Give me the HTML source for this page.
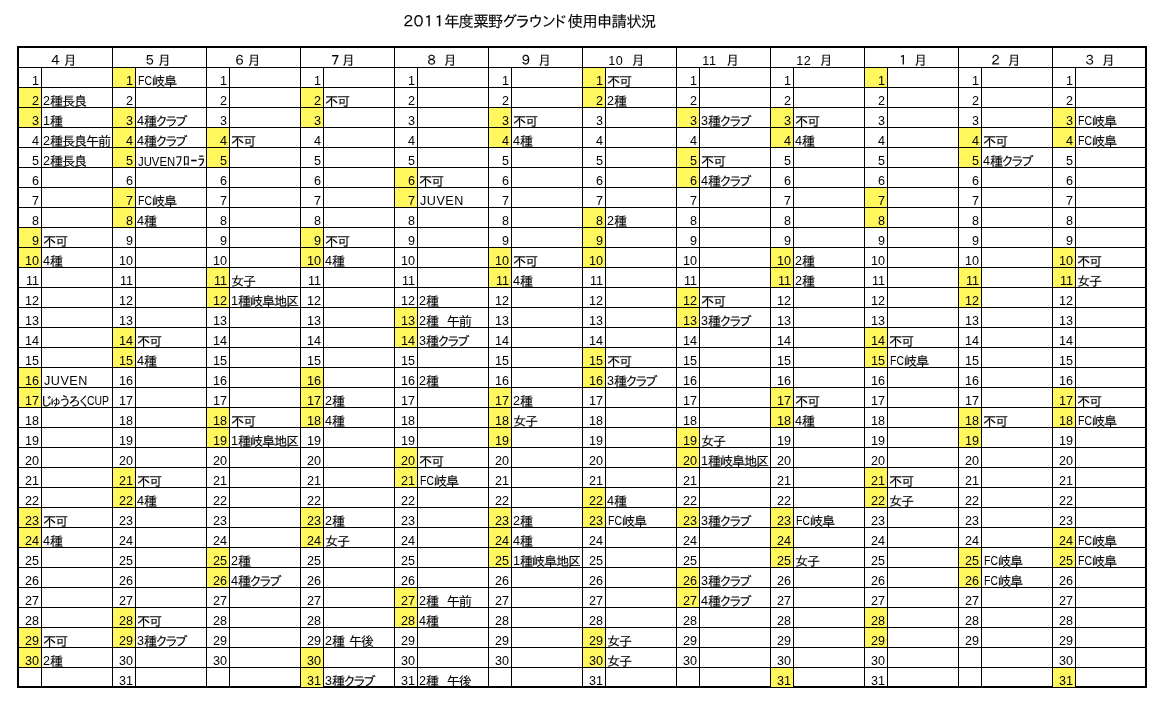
<!DOCTYPE html>
<html lang="ja"><head><meta charset="utf-8"><title>2011年度粟野グラウンド使用申請状況</title>
<style>
html,body{margin:0;padding:0;background:#fff;}
body{will-change:transform;width:1164px;height:703px;position:relative;overflow:hidden;
 font-family:"Liberation Sans","IPAGothic","Noto Sans CJK JP",sans-serif;color:#000;font-size:12.6px;line-height:16px;}
#title span{position:absolute;top:12px;white-space:nowrap;font-size:15.6px;line-height:20px;font-family:"Liberation Sans","IPAGothic","Noto Sans CJK JP",sans-serif;}
#title .a{left:400.5px;letter-spacing:-5.3px;}
#title .b{left:444px;letter-spacing:-1.0px;}
#title .c{left:501.5px;letter-spacing:-2.4px;}
#title .f{left:551.5px;}
#title .e{left:567.5px;letter-spacing:-0.93px;}
#box{position:absolute;left:17px;top:46px;width:1130px;height:642px;box-sizing:border-box;border:2px solid #000;}
.v,.hl,.y{position:absolute;}
.v{width:1px;top:48px;height:638px;background:#000;}
.v.d{top:68px;height:618px;}
.hl{left:19px;width:1126px;height:1px;background:#000;}
.y{width:22px;height:19px;background:#fff75c;}
.t,.n0,.hd{position:absolute;white-space:nowrap;height:16px;}
.n0{width:22px;text-align:right;letter-spacing:-0.02px;}
.j,.k,.h,.s,.g{font-size:13.2px;font-family:"Liberation Sans","IPAGothic","Noto Sans CJK JP",sans-serif;letter-spacing:-1.2px;}
.j,.k,.h,.s,.g{position:relative;top:1px;}
.h{top:0;}
.k{letter-spacing:-3.4px;margin-left:-1.0px;}
.s{letter-spacing:-4.4px;}
.t{word-spacing:1.5px;}
.g{letter-spacing:-3.8px;margin-left:-3.4px;}
.h{font-size:14.5px;letter-spacing:0.3px;}
.n{display:inline-block;transform-origin:0 50%;}
.w{letter-spacing:0.5px;}
.hd{font-size:13.2px;font-family:"Liberation Sans","IPAGothic","Noto Sans CJK JP",sans-serif;}
.j,.k,.g,.h,.hd,#title span{-webkit-text-stroke:0.1px #000;}
.hd.l{-webkit-text-stroke:0;letter-spacing:0.6px;font-size:12.6px;font-family:"Liberation Sans",sans-serif;}
</style></head><body>
<div id="title"><span class="a">２０１１</span><span class="b">年度粟野</span><span class="c">グラウン</span><span class="f">ド</span><span class="e">使用申請状況</span></div>
<div id="box"></div>
<div class="v d" style="left:41px"></div><div class="v" style="left:112px"></div><div class="v d" style="left:135px"></div><div class="v" style="left:206px"></div><div class="v d" style="left:229px"></div><div class="v" style="left:300px"></div><div class="v d" style="left:323px"></div><div class="v" style="left:394px"></div><div class="v d" style="left:417px"></div><div class="v" style="left:488px"></div><div class="v d" style="left:511px"></div><div class="v" style="left:582px"></div><div class="v d" style="left:605px"></div><div class="v" style="left:676px"></div><div class="v d" style="left:699px"></div><div class="v" style="left:770px"></div><div class="v d" style="left:793px"></div><div class="v" style="left:864px"></div><div class="v d" style="left:887px"></div><div class="v" style="left:958px"></div><div class="v d" style="left:981px"></div><div class="v" style="left:1052px"></div><div class="v d" style="left:1075px"></div>
<div class="hl" style="top:67px"></div><div class="hl" style="top:87px"></div><div class="hl" style="top:107px"></div><div class="hl" style="top:127px"></div><div class="hl" style="top:147px"></div><div class="hl" style="top:167px"></div><div class="hl" style="top:187px"></div><div class="hl" style="top:207px"></div><div class="hl" style="top:227px"></div><div class="hl" style="top:247px"></div><div class="hl" style="top:267px"></div><div class="hl" style="top:287px"></div><div class="hl" style="top:307px"></div><div class="hl" style="top:327px"></div><div class="hl" style="top:347px"></div><div class="hl" style="top:367px"></div><div class="hl" style="top:387px"></div><div class="hl" style="top:407px"></div><div class="hl" style="top:427px"></div><div class="hl" style="top:447px"></div><div class="hl" style="top:467px"></div><div class="hl" style="top:487px"></div><div class="hl" style="top:507px"></div><div class="hl" style="top:527px"></div><div class="hl" style="top:547px"></div><div class="hl" style="top:567px"></div><div class="hl" style="top:587px"></div><div class="hl" style="top:607px"></div><div class="hl" style="top:627px"></div><div class="hl" style="top:647px"></div><div class="hl" style="top:667px"></div>
<div class="y" style="left:19px;top:88px"></div><div class="y" style="left:19px;top:108px"></div><div class="y" style="left:19px;top:228px"></div><div class="y" style="left:19px;top:248px"></div><div class="y" style="left:19px;top:368px"></div><div class="y" style="left:19px;top:388px"></div><div class="y" style="left:19px;top:508px"></div><div class="y" style="left:19px;top:528px"></div><div class="y" style="left:19px;top:628px"></div><div class="y" style="left:19px;top:648px"></div><div class="y" style="left:113px;top:68px"></div><div class="y" style="left:113px;top:108px"></div><div class="y" style="left:113px;top:128px"></div><div class="y" style="left:113px;top:148px"></div><div class="y" style="left:113px;top:188px"></div><div class="y" style="left:113px;top:208px"></div><div class="y" style="left:113px;top:328px"></div><div class="y" style="left:113px;top:348px"></div><div class="y" style="left:113px;top:468px"></div><div class="y" style="left:113px;top:488px"></div><div class="y" style="left:113px;top:608px"></div><div class="y" style="left:113px;top:628px"></div><div class="y" style="left:207px;top:128px"></div><div class="y" style="left:207px;top:148px"></div><div class="y" style="left:207px;top:268px"></div><div class="y" style="left:207px;top:288px"></div><div class="y" style="left:207px;top:408px"></div><div class="y" style="left:207px;top:428px"></div><div class="y" style="left:207px;top:548px"></div><div class="y" style="left:207px;top:568px"></div><div class="y" style="left:301px;top:88px"></div><div class="y" style="left:301px;top:108px"></div><div class="y" style="left:301px;top:228px"></div><div class="y" style="left:301px;top:248px"></div><div class="y" style="left:301px;top:368px"></div><div class="y" style="left:301px;top:388px"></div><div class="y" style="left:301px;top:408px"></div><div class="y" style="left:301px;top:508px"></div><div class="y" style="left:301px;top:528px"></div><div class="y" style="left:301px;top:648px"></div><div class="y" style="left:301px;top:668px"></div><div class="y" style="left:395px;top:168px"></div><div class="y" style="left:395px;top:188px"></div><div class="y" style="left:395px;top:308px"></div><div class="y" style="left:395px;top:328px"></div><div class="y" style="left:395px;top:448px"></div><div class="y" style="left:395px;top:468px"></div><div class="y" style="left:395px;top:588px"></div><div class="y" style="left:395px;top:608px"></div><div class="y" style="left:489px;top:108px"></div><div class="y" style="left:489px;top:128px"></div><div class="y" style="left:489px;top:248px"></div><div class="y" style="left:489px;top:268px"></div><div class="y" style="left:489px;top:388px"></div><div class="y" style="left:489px;top:408px"></div><div class="y" style="left:489px;top:428px"></div><div class="y" style="left:489px;top:508px"></div><div class="y" style="left:489px;top:528px"></div><div class="y" style="left:489px;top:548px"></div><div class="y" style="left:583px;top:68px"></div><div class="y" style="left:583px;top:88px"></div><div class="y" style="left:583px;top:208px"></div><div class="y" style="left:583px;top:228px"></div><div class="y" style="left:583px;top:248px"></div><div class="y" style="left:583px;top:348px"></div><div class="y" style="left:583px;top:368px"></div><div class="y" style="left:583px;top:488px"></div><div class="y" style="left:583px;top:508px"></div><div class="y" style="left:583px;top:628px"></div><div class="y" style="left:583px;top:648px"></div><div class="y" style="left:677px;top:108px"></div><div class="y" style="left:677px;top:148px"></div><div class="y" style="left:677px;top:168px"></div><div class="y" style="left:677px;top:288px"></div><div class="y" style="left:677px;top:308px"></div><div class="y" style="left:677px;top:428px"></div><div class="y" style="left:677px;top:448px"></div><div class="y" style="left:677px;top:508px"></div><div class="y" style="left:677px;top:568px"></div><div class="y" style="left:677px;top:588px"></div><div class="y" style="left:771px;top:108px"></div><div class="y" style="left:771px;top:128px"></div><div class="y" style="left:771px;top:248px"></div><div class="y" style="left:771px;top:268px"></div><div class="y" style="left:771px;top:388px"></div><div class="y" style="left:771px;top:408px"></div><div class="y" style="left:771px;top:508px"></div><div class="y" style="left:771px;top:528px"></div><div class="y" style="left:771px;top:548px"></div><div class="y" style="left:771px;top:668px"></div><div class="y" style="left:865px;top:68px"></div><div class="y" style="left:865px;top:188px"></div><div class="y" style="left:865px;top:208px"></div><div class="y" style="left:865px;top:328px"></div><div class="y" style="left:865px;top:348px"></div><div class="y" style="left:865px;top:468px"></div><div class="y" style="left:865px;top:488px"></div><div class="y" style="left:865px;top:608px"></div><div class="y" style="left:865px;top:628px"></div><div class="y" style="left:959px;top:128px"></div><div class="y" style="left:959px;top:148px"></div><div class="y" style="left:959px;top:268px"></div><div class="y" style="left:959px;top:288px"></div><div class="y" style="left:959px;top:408px"></div><div class="y" style="left:959px;top:428px"></div><div class="y" style="left:959px;top:548px"></div><div class="y" style="left:959px;top:568px"></div><div class="y" style="left:1053px;top:108px"></div><div class="y" style="left:1053px;top:128px"></div><div class="y" style="left:1053px;top:248px"></div><div class="y" style="left:1053px;top:268px"></div><div class="y" style="left:1053px;top:388px"></div><div class="y" style="left:1053px;top:408px"></div><div class="y" style="left:1053px;top:528px"></div><div class="y" style="left:1053px;top:548px"></div><div class="y" style="left:1053px;top:668px"></div>
<div class="hd" style="left:49.2px;top:53.0px">４</div><div class="hd" style="left:63.4px;top:53.0px">月</div><div class="hd" style="left:143.2px;top:53.0px">５</div><div class="hd" style="left:157.8px;top:53.0px">月</div><div class="hd" style="left:233.0px;top:53.0px">６</div><div class="hd" style="left:247.6px;top:53.0px">月</div><div class="hd" style="left:328.7px;top:53.0px">７</div><div class="hd" style="left:341.8px;top:53.0px">月</div><div class="hd" style="left:425.1px;top:53.0px">８</div><div class="hd" style="left:443.5px;top:53.0px">月</div><div class="hd" style="left:519.2px;top:53.0px">９</div><div class="hd" style="left:537.9px;top:53.0px">月</div><div class="hd l" style="left:608.2px;top:53.0px">10</div><div class="hd" style="left:631.5px;top:53.0px">月</div><div class="hd l" style="left:702.3px;top:53.0px">11</div><div class="hd" style="left:725.9px;top:53.0px">月</div><div class="hd l" style="left:796.2px;top:53.0px">12</div><div class="hd" style="left:819.5px;top:53.0px">月</div><div class="hd" style="left:896.5px;top:53.0px">１</div><div class="hd" style="left:913.9px;top:53.0px">月</div><div class="hd" style="left:989.0px;top:53.0px">２</div><div class="hd" style="left:1007.5px;top:53.0px">月</div><div class="hd" style="left:1083.2px;top:53.0px">３</div><div class="hd" style="left:1101.8px;top:53.0px">月</div>
<div class="n0" style="left:17.0px;top:73.0px">1</div><div class="n0" style="left:17.0px;top:93.0px">2</div><div class="t" style="left:43.0px;top:93.0px">2<span class="j">種長良</span></div><div class="n0" style="left:17.0px;top:113.0px">3</div><div class="t" style="left:43.0px;top:113.0px">1<span class="j">種</span></div><div class="n0" style="left:17.0px;top:133.0px">4</div><div class="t" style="left:43.0px;top:133.0px">2<span class="j">種長良午前</span></div><div class="n0" style="left:17.0px;top:153.0px">5</div><div class="t" style="left:43.0px;top:153.0px">2<span class="j">種長良</span></div><div class="n0" style="left:17.0px;top:173.0px">6</div><div class="n0" style="left:17.0px;top:193.0px">7</div><div class="n0" style="left:17.0px;top:213.0px">8</div><div class="n0" style="left:17.0px;top:233.0px">9</div><div class="t" style="left:43.0px;top:233.0px"><span class="j">不可</span></div><div class="n0" style="left:17.0px;top:253.0px">10</div><div class="t" style="left:43.0px;top:253.0px">4<span class="j">種</span></div><div class="n0" style="left:17.0px;top:273.0px">11</div><div class="n0" style="left:17.0px;top:293.0px">12</div><div class="n0" style="left:17.0px;top:313.0px">13</div><div class="n0" style="left:17.0px;top:333.0px">14</div><div class="n0" style="left:17.0px;top:353.0px">15</div><div class="n0" style="left:17.0px;top:373.0px">16</div><div class="t" style="left:43.0px;top:373.0px"><span class="w" style="margin-left:1px">JUVEN</span></div><div class="n0" style="left:17.0px;top:393.0px">17</div><div class="t" style="left:43.0px;top:393.0px"><span class="g">じゅうろく</span><span class="n" style="transform:scaleX(0.830);margin-right:-4.52px">CUP</span></div><div class="n0" style="left:17.0px;top:413.0px">18</div><div class="n0" style="left:17.0px;top:433.0px">19</div><div class="n0" style="left:17.0px;top:453.0px">20</div><div class="n0" style="left:17.0px;top:473.0px">21</div><div class="n0" style="left:17.0px;top:493.0px">22</div><div class="n0" style="left:17.0px;top:513.0px">23</div><div class="t" style="left:43.0px;top:513.0px"><span class="j">不可</span></div><div class="n0" style="left:17.0px;top:533.0px">24</div><div class="t" style="left:43.0px;top:533.0px">4<span class="j">種</span></div><div class="n0" style="left:17.0px;top:553.0px">25</div><div class="n0" style="left:17.0px;top:573.0px">26</div><div class="n0" style="left:17.0px;top:593.0px">27</div><div class="n0" style="left:17.0px;top:613.0px">28</div><div class="n0" style="left:17.0px;top:633.0px">29</div><div class="t" style="left:43.0px;top:633.0px"><span class="j">不可</span></div><div class="n0" style="left:17.0px;top:653.0px">30</div><div class="t" style="left:43.0px;top:653.0px">2<span class="j">種</span></div>
<div class="n0" style="left:111.0px;top:73.0px">1</div><div class="t" style="left:137.0px;top:73.0px"><span class="n" style="margin-left:1px;transform:scaleX(0.830);margin-right:-2.86px">FC</span><span class="j">岐阜</span></div><div class="n0" style="left:111.0px;top:93.0px">2</div><div class="n0" style="left:111.0px;top:113.0px">3</div><div class="t" style="left:137.0px;top:113.0px">4<span class="j">種</span><span class="k">クラブ</span></div><div class="n0" style="left:111.0px;top:133.0px">4</div><div class="t" style="left:137.0px;top:133.0px">4<span class="j">種</span><span class="k">クラブ</span></div><div class="n0" style="left:111.0px;top:153.0px">5</div><div class="t" style="left:137.0px;top:153.0px"><span class="n" style="margin-left:1px;transform:scaleX(0.900);margin-right:-4.13px">JUVEN</span><span class="h">ﾌﾛｰﾗ</span></div><div class="n0" style="left:111.0px;top:173.0px">6</div><div class="n0" style="left:111.0px;top:193.0px">7</div><div class="t" style="left:137.0px;top:193.0px"><span class="n" style="margin-left:1px;transform:scaleX(0.830);margin-right:-2.86px">FC</span><span class="j">岐阜</span></div><div class="n0" style="left:111.0px;top:213.0px">8</div><div class="t" style="left:137.0px;top:213.0px">4<span class="j">種</span></div><div class="n0" style="left:111.0px;top:233.0px">9</div><div class="n0" style="left:111.0px;top:253.0px">10</div><div class="n0" style="left:111.0px;top:273.0px">11</div><div class="n0" style="left:111.0px;top:293.0px">12</div><div class="n0" style="left:111.0px;top:313.0px">13</div><div class="n0" style="left:111.0px;top:333.0px">14</div><div class="t" style="left:137.0px;top:333.0px"><span class="j">不可</span></div><div class="n0" style="left:111.0px;top:353.0px">15</div><div class="t" style="left:137.0px;top:353.0px">4<span class="j">種</span></div><div class="n0" style="left:111.0px;top:373.0px">16</div><div class="n0" style="left:111.0px;top:393.0px">17</div><div class="n0" style="left:111.0px;top:413.0px">18</div><div class="n0" style="left:111.0px;top:433.0px">19</div><div class="n0" style="left:111.0px;top:453.0px">20</div><div class="n0" style="left:111.0px;top:473.0px">21</div><div class="t" style="left:137.0px;top:473.0px"><span class="j">不可</span></div><div class="n0" style="left:111.0px;top:493.0px">22</div><div class="t" style="left:137.0px;top:493.0px">4<span class="j">種</span></div><div class="n0" style="left:111.0px;top:513.0px">23</div><div class="n0" style="left:111.0px;top:533.0px">24</div><div class="n0" style="left:111.0px;top:553.0px">25</div><div class="n0" style="left:111.0px;top:573.0px">26</div><div class="n0" style="left:111.0px;top:593.0px">27</div><div class="n0" style="left:111.0px;top:613.0px">28</div><div class="t" style="left:137.0px;top:613.0px"><span class="j">不可</span></div><div class="n0" style="left:111.0px;top:633.0px">29</div><div class="t" style="left:137.0px;top:633.0px">3<span class="j">種</span><span class="k">クラブ</span></div><div class="n0" style="left:111.0px;top:653.0px">30</div><div class="n0" style="left:111.0px;top:673.0px">31</div>
<div class="n0" style="left:205.0px;top:73.0px">1</div><div class="n0" style="left:205.0px;top:93.0px">2</div><div class="n0" style="left:205.0px;top:113.0px">3</div><div class="n0" style="left:205.0px;top:133.0px">4</div><div class="t" style="left:231.0px;top:133.0px"><span class="j">不可</span></div><div class="n0" style="left:205.0px;top:153.0px">5</div><div class="n0" style="left:205.0px;top:173.0px">6</div><div class="n0" style="left:205.0px;top:193.0px">7</div><div class="n0" style="left:205.0px;top:213.0px">8</div><div class="n0" style="left:205.0px;top:233.0px">9</div><div class="n0" style="left:205.0px;top:253.0px">10</div><div class="n0" style="left:205.0px;top:273.0px">11</div><div class="t" style="left:231.0px;top:273.0px"><span class="j">女子</span></div><div class="n0" style="left:205.0px;top:293.0px">12</div><div class="t" style="left:231.0px;top:293.0px">1<span class="j">種岐阜地区</span></div><div class="n0" style="left:205.0px;top:313.0px">13</div><div class="n0" style="left:205.0px;top:333.0px">14</div><div class="n0" style="left:205.0px;top:353.0px">15</div><div class="n0" style="left:205.0px;top:373.0px">16</div><div class="n0" style="left:205.0px;top:393.0px">17</div><div class="n0" style="left:205.0px;top:413.0px">18</div><div class="t" style="left:231.0px;top:413.0px"><span class="j">不可</span></div><div class="n0" style="left:205.0px;top:433.0px">19</div><div class="t" style="left:231.0px;top:433.0px">1<span class="j">種岐阜地区</span></div><div class="n0" style="left:205.0px;top:453.0px">20</div><div class="n0" style="left:205.0px;top:473.0px">21</div><div class="n0" style="left:205.0px;top:493.0px">22</div><div class="n0" style="left:205.0px;top:513.0px">23</div><div class="n0" style="left:205.0px;top:533.0px">24</div><div class="n0" style="left:205.0px;top:553.0px">25</div><div class="t" style="left:231.0px;top:553.0px">2<span class="j">種</span></div><div class="n0" style="left:205.0px;top:573.0px">26</div><div class="t" style="left:231.0px;top:573.0px">4<span class="j">種</span><span class="k">クラブ</span></div><div class="n0" style="left:205.0px;top:593.0px">27</div><div class="n0" style="left:205.0px;top:613.0px">28</div><div class="n0" style="left:205.0px;top:633.0px">29</div><div class="n0" style="left:205.0px;top:653.0px">30</div>
<div class="n0" style="left:299.0px;top:73.0px">1</div><div class="n0" style="left:299.0px;top:93.0px">2</div><div class="t" style="left:325.0px;top:93.0px"><span class="j">不可</span></div><div class="n0" style="left:299.0px;top:113.0px">3</div><div class="n0" style="left:299.0px;top:133.0px">4</div><div class="n0" style="left:299.0px;top:153.0px">5</div><div class="n0" style="left:299.0px;top:173.0px">6</div><div class="n0" style="left:299.0px;top:193.0px">7</div><div class="n0" style="left:299.0px;top:213.0px">8</div><div class="n0" style="left:299.0px;top:233.0px">9</div><div class="t" style="left:325.0px;top:233.0px"><span class="j">不可</span></div><div class="n0" style="left:299.0px;top:253.0px">10</div><div class="t" style="left:325.0px;top:253.0px">4<span class="j">種</span></div><div class="n0" style="left:299.0px;top:273.0px">11</div><div class="n0" style="left:299.0px;top:293.0px">12</div><div class="n0" style="left:299.0px;top:313.0px">13</div><div class="n0" style="left:299.0px;top:333.0px">14</div><div class="n0" style="left:299.0px;top:353.0px">15</div><div class="n0" style="left:299.0px;top:373.0px">16</div><div class="n0" style="left:299.0px;top:393.0px">17</div><div class="t" style="left:325.0px;top:393.0px">2<span class="j">種</span></div><div class="n0" style="left:299.0px;top:413.0px">18</div><div class="t" style="left:325.0px;top:413.0px">4<span class="j">種</span></div><div class="n0" style="left:299.0px;top:433.0px">19</div><div class="n0" style="left:299.0px;top:453.0px">20</div><div class="n0" style="left:299.0px;top:473.0px">21</div><div class="n0" style="left:299.0px;top:493.0px">22</div><div class="n0" style="left:299.0px;top:513.0px">23</div><div class="t" style="left:325.0px;top:513.0px">2<span class="j">種</span></div><div class="n0" style="left:299.0px;top:533.0px">24</div><div class="t" style="left:325.0px;top:533.0px"><span class="j">女子</span></div><div class="n0" style="left:299.0px;top:553.0px">25</div><div class="n0" style="left:299.0px;top:573.0px">26</div><div class="n0" style="left:299.0px;top:593.0px">27</div><div class="n0" style="left:299.0px;top:613.0px">28</div><div class="n0" style="left:299.0px;top:633.0px">29</div><div class="t" style="left:325.0px;top:633.0px">2<span class="j">種</span> <span class="j">午後</span></div><div class="n0" style="left:299.0px;top:653.0px">30</div><div class="n0" style="left:299.0px;top:673.0px">31</div><div class="t" style="left:325.0px;top:673.0px">3<span class="j">種</span><span class="k">クラブ</span></div>
<div class="n0" style="left:393.0px;top:73.0px">1</div><div class="n0" style="left:393.0px;top:93.0px">2</div><div class="n0" style="left:393.0px;top:113.0px">3</div><div class="n0" style="left:393.0px;top:133.0px">4</div><div class="n0" style="left:393.0px;top:153.0px">5</div><div class="n0" style="left:393.0px;top:173.0px">6</div><div class="t" style="left:419.0px;top:173.0px"><span class="j">不可</span></div><div class="n0" style="left:393.0px;top:193.0px">7</div><div class="t" style="left:419.0px;top:193.0px"><span class="w" style="margin-left:1px">JUVEN</span></div><div class="n0" style="left:393.0px;top:213.0px">8</div><div class="n0" style="left:393.0px;top:233.0px">9</div><div class="n0" style="left:393.0px;top:253.0px">10</div><div class="n0" style="left:393.0px;top:273.0px">11</div><div class="n0" style="left:393.0px;top:293.0px">12</div><div class="t" style="left:419.0px;top:293.0px">2<span class="j">種</span></div><div class="n0" style="left:393.0px;top:313.0px">13</div><div class="t" style="left:419.0px;top:313.0px">2<span class="j">種</span><span class="s">　</span><span class="j">午前</span></div><div class="n0" style="left:393.0px;top:333.0px">14</div><div class="t" style="left:419.0px;top:333.0px">3<span class="j">種</span><span class="k">クラブ</span></div><div class="n0" style="left:393.0px;top:353.0px">15</div><div class="n0" style="left:393.0px;top:373.0px">16</div><div class="t" style="left:419.0px;top:373.0px">2<span class="j">種</span></div><div class="n0" style="left:393.0px;top:393.0px">17</div><div class="n0" style="left:393.0px;top:413.0px">18</div><div class="n0" style="left:393.0px;top:433.0px">19</div><div class="n0" style="left:393.0px;top:453.0px">20</div><div class="t" style="left:419.0px;top:453.0px"><span class="j">不可</span></div><div class="n0" style="left:393.0px;top:473.0px">21</div><div class="t" style="left:419.0px;top:473.0px"><span class="n" style="margin-left:1px;transform:scaleX(0.830);margin-right:-2.86px">FC</span><span class="j">岐阜</span></div><div class="n0" style="left:393.0px;top:493.0px">22</div><div class="n0" style="left:393.0px;top:513.0px">23</div><div class="n0" style="left:393.0px;top:533.0px">24</div><div class="n0" style="left:393.0px;top:553.0px">25</div><div class="n0" style="left:393.0px;top:573.0px">26</div><div class="n0" style="left:393.0px;top:593.0px">27</div><div class="t" style="left:419.0px;top:593.0px">2<span class="j">種</span><span class="s">　</span><span class="j">午前</span></div><div class="n0" style="left:393.0px;top:613.0px">28</div><div class="t" style="left:419.0px;top:613.0px">4<span class="j">種</span></div><div class="n0" style="left:393.0px;top:633.0px">29</div><div class="n0" style="left:393.0px;top:653.0px">30</div><div class="n0" style="left:393.0px;top:673.0px">31</div><div class="t" style="left:419.0px;top:673.0px">2<span class="j">種</span><span class="s">　</span><span class="j">午後</span></div>
<div class="n0" style="left:487.0px;top:73.0px">1</div><div class="n0" style="left:487.0px;top:93.0px">2</div><div class="n0" style="left:487.0px;top:113.0px">3</div><div class="t" style="left:513.0px;top:113.0px"><span class="j">不可</span></div><div class="n0" style="left:487.0px;top:133.0px">4</div><div class="t" style="left:513.0px;top:133.0px">4<span class="j">種</span></div><div class="n0" style="left:487.0px;top:153.0px">5</div><div class="n0" style="left:487.0px;top:173.0px">6</div><div class="n0" style="left:487.0px;top:193.0px">7</div><div class="n0" style="left:487.0px;top:213.0px">8</div><div class="n0" style="left:487.0px;top:233.0px">9</div><div class="n0" style="left:487.0px;top:253.0px">10</div><div class="t" style="left:513.0px;top:253.0px"><span class="j">不可</span></div><div class="n0" style="left:487.0px;top:273.0px">11</div><div class="t" style="left:513.0px;top:273.0px">4<span class="j">種</span></div><div class="n0" style="left:487.0px;top:293.0px">12</div><div class="n0" style="left:487.0px;top:313.0px">13</div><div class="n0" style="left:487.0px;top:333.0px">14</div><div class="n0" style="left:487.0px;top:353.0px">15</div><div class="n0" style="left:487.0px;top:373.0px">16</div><div class="n0" style="left:487.0px;top:393.0px">17</div><div class="t" style="left:513.0px;top:393.0px">2<span class="j">種</span></div><div class="n0" style="left:487.0px;top:413.0px">18</div><div class="t" style="left:513.0px;top:413.0px"><span class="j">女子</span></div><div class="n0" style="left:487.0px;top:433.0px">19</div><div class="n0" style="left:487.0px;top:453.0px">20</div><div class="n0" style="left:487.0px;top:473.0px">21</div><div class="n0" style="left:487.0px;top:493.0px">22</div><div class="n0" style="left:487.0px;top:513.0px">23</div><div class="t" style="left:513.0px;top:513.0px">2<span class="j">種</span></div><div class="n0" style="left:487.0px;top:533.0px">24</div><div class="t" style="left:513.0px;top:533.0px">4<span class="j">種</span></div><div class="n0" style="left:487.0px;top:553.0px">25</div><div class="t" style="left:513.0px;top:553.0px">1<span class="j">種岐阜地区</span></div><div class="n0" style="left:487.0px;top:573.0px">26</div><div class="n0" style="left:487.0px;top:593.0px">27</div><div class="n0" style="left:487.0px;top:613.0px">28</div><div class="n0" style="left:487.0px;top:633.0px">29</div><div class="n0" style="left:487.0px;top:653.0px">30</div>
<div class="n0" style="left:581.0px;top:73.0px">1</div><div class="t" style="left:607.0px;top:73.0px"><span class="j">不可</span></div><div class="n0" style="left:581.0px;top:93.0px">2</div><div class="t" style="left:607.0px;top:93.0px">2<span class="j">種</span></div><div class="n0" style="left:581.0px;top:113.0px">3</div><div class="n0" style="left:581.0px;top:133.0px">4</div><div class="n0" style="left:581.0px;top:153.0px">5</div><div class="n0" style="left:581.0px;top:173.0px">6</div><div class="n0" style="left:581.0px;top:193.0px">7</div><div class="n0" style="left:581.0px;top:213.0px">8</div><div class="t" style="left:607.0px;top:213.0px">2<span class="j">種</span></div><div class="n0" style="left:581.0px;top:233.0px">9</div><div class="n0" style="left:581.0px;top:253.0px">10</div><div class="n0" style="left:581.0px;top:273.0px">11</div><div class="n0" style="left:581.0px;top:293.0px">12</div><div class="n0" style="left:581.0px;top:313.0px">13</div><div class="n0" style="left:581.0px;top:333.0px">14</div><div class="n0" style="left:581.0px;top:353.0px">15</div><div class="t" style="left:607.0px;top:353.0px"><span class="j">不可</span></div><div class="n0" style="left:581.0px;top:373.0px">16</div><div class="t" style="left:607.0px;top:373.0px">3<span class="j">種</span><span class="k">クラブ</span></div><div class="n0" style="left:581.0px;top:393.0px">17</div><div class="n0" style="left:581.0px;top:413.0px">18</div><div class="n0" style="left:581.0px;top:433.0px">19</div><div class="n0" style="left:581.0px;top:453.0px">20</div><div class="n0" style="left:581.0px;top:473.0px">21</div><div class="n0" style="left:581.0px;top:493.0px">22</div><div class="t" style="left:607.0px;top:493.0px">4<span class="j">種</span></div><div class="n0" style="left:581.0px;top:513.0px">23</div><div class="t" style="left:607.0px;top:513.0px"><span class="n" style="margin-left:1px;transform:scaleX(0.830);margin-right:-2.86px">FC</span><span class="j">岐阜</span></div><div class="n0" style="left:581.0px;top:533.0px">24</div><div class="n0" style="left:581.0px;top:553.0px">25</div><div class="n0" style="left:581.0px;top:573.0px">26</div><div class="n0" style="left:581.0px;top:593.0px">27</div><div class="n0" style="left:581.0px;top:613.0px">28</div><div class="n0" style="left:581.0px;top:633.0px">29</div><div class="t" style="left:607.0px;top:633.0px"><span class="j">女子</span></div><div class="n0" style="left:581.0px;top:653.0px">30</div><div class="t" style="left:607.0px;top:653.0px"><span class="j">女子</span></div><div class="n0" style="left:581.0px;top:673.0px">31</div>
<div class="n0" style="left:675.0px;top:73.0px">1</div><div class="n0" style="left:675.0px;top:93.0px">2</div><div class="n0" style="left:675.0px;top:113.0px">3</div><div class="t" style="left:701.0px;top:113.0px">3<span class="j">種</span><span class="k">クラブ</span></div><div class="n0" style="left:675.0px;top:133.0px">4</div><div class="n0" style="left:675.0px;top:153.0px">5</div><div class="t" style="left:701.0px;top:153.0px"><span class="j">不可</span></div><div class="n0" style="left:675.0px;top:173.0px">6</div><div class="t" style="left:701.0px;top:173.0px">4<span class="j">種</span><span class="k">クラブ</span></div><div class="n0" style="left:675.0px;top:193.0px">7</div><div class="n0" style="left:675.0px;top:213.0px">8</div><div class="n0" style="left:675.0px;top:233.0px">9</div><div class="n0" style="left:675.0px;top:253.0px">10</div><div class="n0" style="left:675.0px;top:273.0px">11</div><div class="n0" style="left:675.0px;top:293.0px">12</div><div class="t" style="left:701.0px;top:293.0px"><span class="j">不可</span></div><div class="n0" style="left:675.0px;top:313.0px">13</div><div class="t" style="left:701.0px;top:313.0px">3<span class="j">種</span><span class="k">クラブ</span></div><div class="n0" style="left:675.0px;top:333.0px">14</div><div class="n0" style="left:675.0px;top:353.0px">15</div><div class="n0" style="left:675.0px;top:373.0px">16</div><div class="n0" style="left:675.0px;top:393.0px">17</div><div class="n0" style="left:675.0px;top:413.0px">18</div><div class="n0" style="left:675.0px;top:433.0px">19</div><div class="t" style="left:701.0px;top:433.0px"><span class="j">女子</span></div><div class="n0" style="left:675.0px;top:453.0px">20</div><div class="t" style="left:701.0px;top:453.0px">1<span class="j">種岐阜地区</span></div><div class="n0" style="left:675.0px;top:473.0px">21</div><div class="n0" style="left:675.0px;top:493.0px">22</div><div class="n0" style="left:675.0px;top:513.0px">23</div><div class="t" style="left:701.0px;top:513.0px">3<span class="j">種</span><span class="k">クラブ</span></div><div class="n0" style="left:675.0px;top:533.0px">24</div><div class="n0" style="left:675.0px;top:553.0px">25</div><div class="n0" style="left:675.0px;top:573.0px">26</div><div class="t" style="left:701.0px;top:573.0px">3<span class="j">種</span><span class="k">クラブ</span></div><div class="n0" style="left:675.0px;top:593.0px">27</div><div class="t" style="left:701.0px;top:593.0px">4<span class="j">種</span><span class="k">クラブ</span></div><div class="n0" style="left:675.0px;top:613.0px">28</div><div class="n0" style="left:675.0px;top:633.0px">29</div><div class="n0" style="left:675.0px;top:653.0px">30</div>
<div class="n0" style="left:769.0px;top:73.0px">1</div><div class="n0" style="left:769.0px;top:93.0px">2</div><div class="n0" style="left:769.0px;top:113.0px">3</div><div class="t" style="left:795.0px;top:113.0px"><span class="j">不可</span></div><div class="n0" style="left:769.0px;top:133.0px">4</div><div class="t" style="left:795.0px;top:133.0px">4<span class="j">種</span></div><div class="n0" style="left:769.0px;top:153.0px">5</div><div class="n0" style="left:769.0px;top:173.0px">6</div><div class="n0" style="left:769.0px;top:193.0px">7</div><div class="n0" style="left:769.0px;top:213.0px">8</div><div class="n0" style="left:769.0px;top:233.0px">9</div><div class="n0" style="left:769.0px;top:253.0px">10</div><div class="t" style="left:795.0px;top:253.0px">2<span class="j">種</span></div><div class="n0" style="left:769.0px;top:273.0px">11</div><div class="t" style="left:795.0px;top:273.0px">2<span class="j">種</span></div><div class="n0" style="left:769.0px;top:293.0px">12</div><div class="n0" style="left:769.0px;top:313.0px">13</div><div class="n0" style="left:769.0px;top:333.0px">14</div><div class="n0" style="left:769.0px;top:353.0px">15</div><div class="n0" style="left:769.0px;top:373.0px">16</div><div class="n0" style="left:769.0px;top:393.0px">17</div><div class="t" style="left:795.0px;top:393.0px"><span class="j">不可</span></div><div class="n0" style="left:769.0px;top:413.0px">18</div><div class="t" style="left:795.0px;top:413.0px">4<span class="j">種</span></div><div class="n0" style="left:769.0px;top:433.0px">19</div><div class="n0" style="left:769.0px;top:453.0px">20</div><div class="n0" style="left:769.0px;top:473.0px">21</div><div class="n0" style="left:769.0px;top:493.0px">22</div><div class="n0" style="left:769.0px;top:513.0px">23</div><div class="t" style="left:795.0px;top:513.0px"><span class="n" style="margin-left:1px;transform:scaleX(0.830);margin-right:-2.86px">FC</span><span class="j">岐阜</span></div><div class="n0" style="left:769.0px;top:533.0px">24</div><div class="n0" style="left:769.0px;top:553.0px">25</div><div class="t" style="left:795.0px;top:553.0px"><span class="j">女子</span></div><div class="n0" style="left:769.0px;top:573.0px">26</div><div class="n0" style="left:769.0px;top:593.0px">27</div><div class="n0" style="left:769.0px;top:613.0px">28</div><div class="n0" style="left:769.0px;top:633.0px">29</div><div class="n0" style="left:769.0px;top:653.0px">30</div><div class="n0" style="left:769.0px;top:673.0px">31</div>
<div class="n0" style="left:863.0px;top:73.0px">1</div><div class="n0" style="left:863.0px;top:93.0px">2</div><div class="n0" style="left:863.0px;top:113.0px">3</div><div class="n0" style="left:863.0px;top:133.0px">4</div><div class="n0" style="left:863.0px;top:153.0px">5</div><div class="n0" style="left:863.0px;top:173.0px">6</div><div class="n0" style="left:863.0px;top:193.0px">7</div><div class="n0" style="left:863.0px;top:213.0px">8</div><div class="n0" style="left:863.0px;top:233.0px">9</div><div class="n0" style="left:863.0px;top:253.0px">10</div><div class="n0" style="left:863.0px;top:273.0px">11</div><div class="n0" style="left:863.0px;top:293.0px">12</div><div class="n0" style="left:863.0px;top:313.0px">13</div><div class="n0" style="left:863.0px;top:333.0px">14</div><div class="t" style="left:889.0px;top:333.0px"><span class="j">不可</span></div><div class="n0" style="left:863.0px;top:353.0px">15</div><div class="t" style="left:889.0px;top:353.0px"><span class="n" style="margin-left:1px;transform:scaleX(0.830);margin-right:-2.86px">FC</span><span class="j">岐阜</span></div><div class="n0" style="left:863.0px;top:373.0px">16</div><div class="n0" style="left:863.0px;top:393.0px">17</div><div class="n0" style="left:863.0px;top:413.0px">18</div><div class="n0" style="left:863.0px;top:433.0px">19</div><div class="n0" style="left:863.0px;top:453.0px">20</div><div class="n0" style="left:863.0px;top:473.0px">21</div><div class="t" style="left:889.0px;top:473.0px"><span class="j">不可</span></div><div class="n0" style="left:863.0px;top:493.0px">22</div><div class="t" style="left:889.0px;top:493.0px"><span class="j">女子</span></div><div class="n0" style="left:863.0px;top:513.0px">23</div><div class="n0" style="left:863.0px;top:533.0px">24</div><div class="n0" style="left:863.0px;top:553.0px">25</div><div class="n0" style="left:863.0px;top:573.0px">26</div><div class="n0" style="left:863.0px;top:593.0px">27</div><div class="n0" style="left:863.0px;top:613.0px">28</div><div class="n0" style="left:863.0px;top:633.0px">29</div><div class="n0" style="left:863.0px;top:653.0px">30</div><div class="n0" style="left:863.0px;top:673.0px">31</div>
<div class="n0" style="left:957.0px;top:73.0px">1</div><div class="n0" style="left:957.0px;top:93.0px">2</div><div class="n0" style="left:957.0px;top:113.0px">3</div><div class="n0" style="left:957.0px;top:133.0px">4</div><div class="t" style="left:983.0px;top:133.0px"><span class="j">不可</span></div><div class="n0" style="left:957.0px;top:153.0px">5</div><div class="t" style="left:983.0px;top:153.0px">4<span class="j">種</span><span class="k">クラブ</span></div><div class="n0" style="left:957.0px;top:173.0px">6</div><div class="n0" style="left:957.0px;top:193.0px">7</div><div class="n0" style="left:957.0px;top:213.0px">8</div><div class="n0" style="left:957.0px;top:233.0px">9</div><div class="n0" style="left:957.0px;top:253.0px">10</div><div class="n0" style="left:957.0px;top:273.0px">11</div><div class="n0" style="left:957.0px;top:293.0px">12</div><div class="n0" style="left:957.0px;top:313.0px">13</div><div class="n0" style="left:957.0px;top:333.0px">14</div><div class="n0" style="left:957.0px;top:353.0px">15</div><div class="n0" style="left:957.0px;top:373.0px">16</div><div class="n0" style="left:957.0px;top:393.0px">17</div><div class="n0" style="left:957.0px;top:413.0px">18</div><div class="t" style="left:983.0px;top:413.0px"><span class="j">不可</span></div><div class="n0" style="left:957.0px;top:433.0px">19</div><div class="n0" style="left:957.0px;top:453.0px">20</div><div class="n0" style="left:957.0px;top:473.0px">21</div><div class="n0" style="left:957.0px;top:493.0px">22</div><div class="n0" style="left:957.0px;top:513.0px">23</div><div class="n0" style="left:957.0px;top:533.0px">24</div><div class="n0" style="left:957.0px;top:553.0px">25</div><div class="t" style="left:983.0px;top:553.0px"><span class="n" style="margin-left:1px;transform:scaleX(0.830);margin-right:-2.86px">FC</span><span class="j">岐阜</span></div><div class="n0" style="left:957.0px;top:573.0px">26</div><div class="t" style="left:983.0px;top:573.0px"><span class="n" style="margin-left:1px;transform:scaleX(0.830);margin-right:-2.86px">FC</span><span class="j">岐阜</span></div><div class="n0" style="left:957.0px;top:593.0px">27</div><div class="n0" style="left:957.0px;top:613.0px">28</div><div class="n0" style="left:957.0px;top:633.0px">29</div>
<div class="n0" style="left:1051.0px;top:73.0px">1</div><div class="n0" style="left:1051.0px;top:93.0px">2</div><div class="n0" style="left:1051.0px;top:113.0px">3</div><div class="t" style="left:1077.0px;top:113.0px"><span class="n" style="margin-left:1px;transform:scaleX(0.830);margin-right:-2.86px">FC</span><span class="j">岐阜</span></div><div class="n0" style="left:1051.0px;top:133.0px">4</div><div class="t" style="left:1077.0px;top:133.0px"><span class="n" style="margin-left:1px;transform:scaleX(0.830);margin-right:-2.86px">FC</span><span class="j">岐阜</span></div><div class="n0" style="left:1051.0px;top:153.0px">5</div><div class="n0" style="left:1051.0px;top:173.0px">6</div><div class="n0" style="left:1051.0px;top:193.0px">7</div><div class="n0" style="left:1051.0px;top:213.0px">8</div><div class="n0" style="left:1051.0px;top:233.0px">9</div><div class="n0" style="left:1051.0px;top:253.0px">10</div><div class="t" style="left:1077.0px;top:253.0px"><span class="j">不可</span></div><div class="n0" style="left:1051.0px;top:273.0px">11</div><div class="t" style="left:1077.0px;top:273.0px"><span class="j">女子</span></div><div class="n0" style="left:1051.0px;top:293.0px">12</div><div class="n0" style="left:1051.0px;top:313.0px">13</div><div class="n0" style="left:1051.0px;top:333.0px">14</div><div class="n0" style="left:1051.0px;top:353.0px">15</div><div class="n0" style="left:1051.0px;top:373.0px">16</div><div class="n0" style="left:1051.0px;top:393.0px">17</div><div class="t" style="left:1077.0px;top:393.0px"><span class="j">不可</span></div><div class="n0" style="left:1051.0px;top:413.0px">18</div><div class="t" style="left:1077.0px;top:413.0px"><span class="n" style="margin-left:1px;transform:scaleX(0.830);margin-right:-2.86px">FC</span><span class="j">岐阜</span></div><div class="n0" style="left:1051.0px;top:433.0px">19</div><div class="n0" style="left:1051.0px;top:453.0px">20</div><div class="n0" style="left:1051.0px;top:473.0px">21</div><div class="n0" style="left:1051.0px;top:493.0px">22</div><div class="n0" style="left:1051.0px;top:513.0px">23</div><div class="n0" style="left:1051.0px;top:533.0px">24</div><div class="t" style="left:1077.0px;top:533.0px"><span class="n" style="margin-left:1px;transform:scaleX(0.830);margin-right:-2.86px">FC</span><span class="j">岐阜</span></div><div class="n0" style="left:1051.0px;top:553.0px">25</div><div class="t" style="left:1077.0px;top:553.0px"><span class="n" style="margin-left:1px;transform:scaleX(0.830);margin-right:-2.86px">FC</span><span class="j">岐阜</span></div><div class="n0" style="left:1051.0px;top:573.0px">26</div><div class="n0" style="left:1051.0px;top:593.0px">27</div><div class="n0" style="left:1051.0px;top:613.0px">28</div><div class="n0" style="left:1051.0px;top:633.0px">29</div><div class="n0" style="left:1051.0px;top:653.0px">30</div><div class="n0" style="left:1051.0px;top:673.0px">31</div>
</body></html>
